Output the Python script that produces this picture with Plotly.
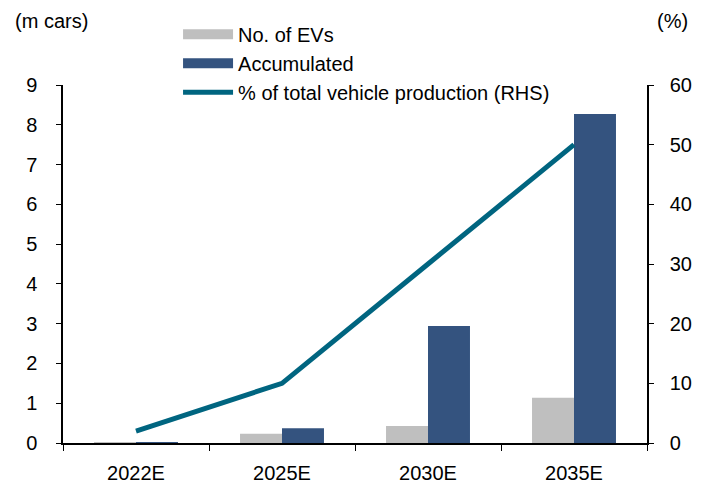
import plotly.graph_objects as go

categories = ["2022E", "2025E", "2030E", "2035E"]
no_of_evs = [0.01, 0.23, 0.43, 1.14]
accumulated = [0.02, 0.37, 2.94, 8.27]
pct_total = [2, 10, 30, 50]
left_ticks = [0, 1, 2, 3, 4, 5, 6, 7, 8, 9]
right_ticks = [0, 10, 20, 30, 40, 50, 60]

FONT = "Liberation Sans, Arial, sans-serif"
GREY = "#bfbfbf"
NAVY = "#34537f"
TEAL = "#006580"

fig = go.Figure()
fig.add_trace(go.Bar(x=categories, y=no_of_evs, name="No. of EVs", showlegend=False,
                     marker=dict(color=GREY, line=dict(width=0))))
fig.add_trace(go.Bar(x=categories, y=accumulated, name="Accumulated", showlegend=False,
                     marker=dict(color=NAVY, line=dict(width=0))))
fig.add_trace(go.Scatter(x=categories, y=pct_total, name="% of total vehicle production (RHS)",
                         mode="lines", yaxis="y2", showlegend=False,
                         line=dict(color=TEAL, width=5)))
# legend entries (wide swatches like the original)
fig.add_trace(go.Scatter(x=[None], y=[None], name="No. of EVs", mode="lines",
                         line=dict(color=GREY, width=12), hoverinfo="skip"))
fig.add_trace(go.Scatter(x=[None], y=[None], name="Accumulated", mode="lines",
                         line=dict(color=NAVY, width=12), hoverinfo="skip"))
fig.add_trace(go.Scatter(x=[None], y=[None], name="% of total vehicle production (RHS)",
                         mode="lines", line=dict(color=TEAL, width=5), hoverinfo="skip"))

fig.update_layout(
    width=700, height=475,
    margin=dict(l=55, r=61, t=77, b=40, autoexpand=False),
    paper_bgcolor="white", plot_bgcolor="white",
    font=dict(family=FONT, size=20, color="black"),
    barmode="group", bargap=0.425, bargroupgap=0,
    showlegend=True,
    legend=dict(x=0.197, y=1.196, xanchor="left", yanchor="top",
                bgcolor="rgba(0,0,0,0)", font=dict(size=20),
                tracegroupgap=0, itemwidth=50, traceorder="normal"),
    xaxis=dict(showline=True, linecolor="black", linewidth=1.5,
               ticks="outside", tickson="boundaries", ticklen=6,
               tickcolor="black", showgrid=False, zeroline=False,
               ticklabelstandoff=11, automargin=False),
    yaxis=dict(range=[0, 9], tickvals=left_ticks, showline=True, linecolor="black",
               linewidth=1.5, ticks="outside", ticklen=5, tickcolor="black",
               showgrid=False, zeroline=False, ticklabelstandoff=15, automargin=False),
    yaxis2=dict(range=[0, 60], tickvals=right_ticks, overlaying="y", side="right",
                showline=True, linecolor="black", linewidth=1.5, ticks="outside",
                ticklen=5, tickcolor="black", showgrid=False, zeroline=False,
                ticklabelstandoff=12, automargin=False),
    annotations=[
        dict(text="(m cars)", xref="paper", yref="paper", x=-0.019, y=1.18,
             xanchor="center", yanchor="middle", showarrow=False, font=dict(size=20)),
        dict(text="(%)", xref="paper", yref="paper", x=1.043, y=1.18,
             xanchor="center", yanchor="middle", showarrow=False, font=dict(size=20)),
    ],
)

fig.write_html("out.html")
